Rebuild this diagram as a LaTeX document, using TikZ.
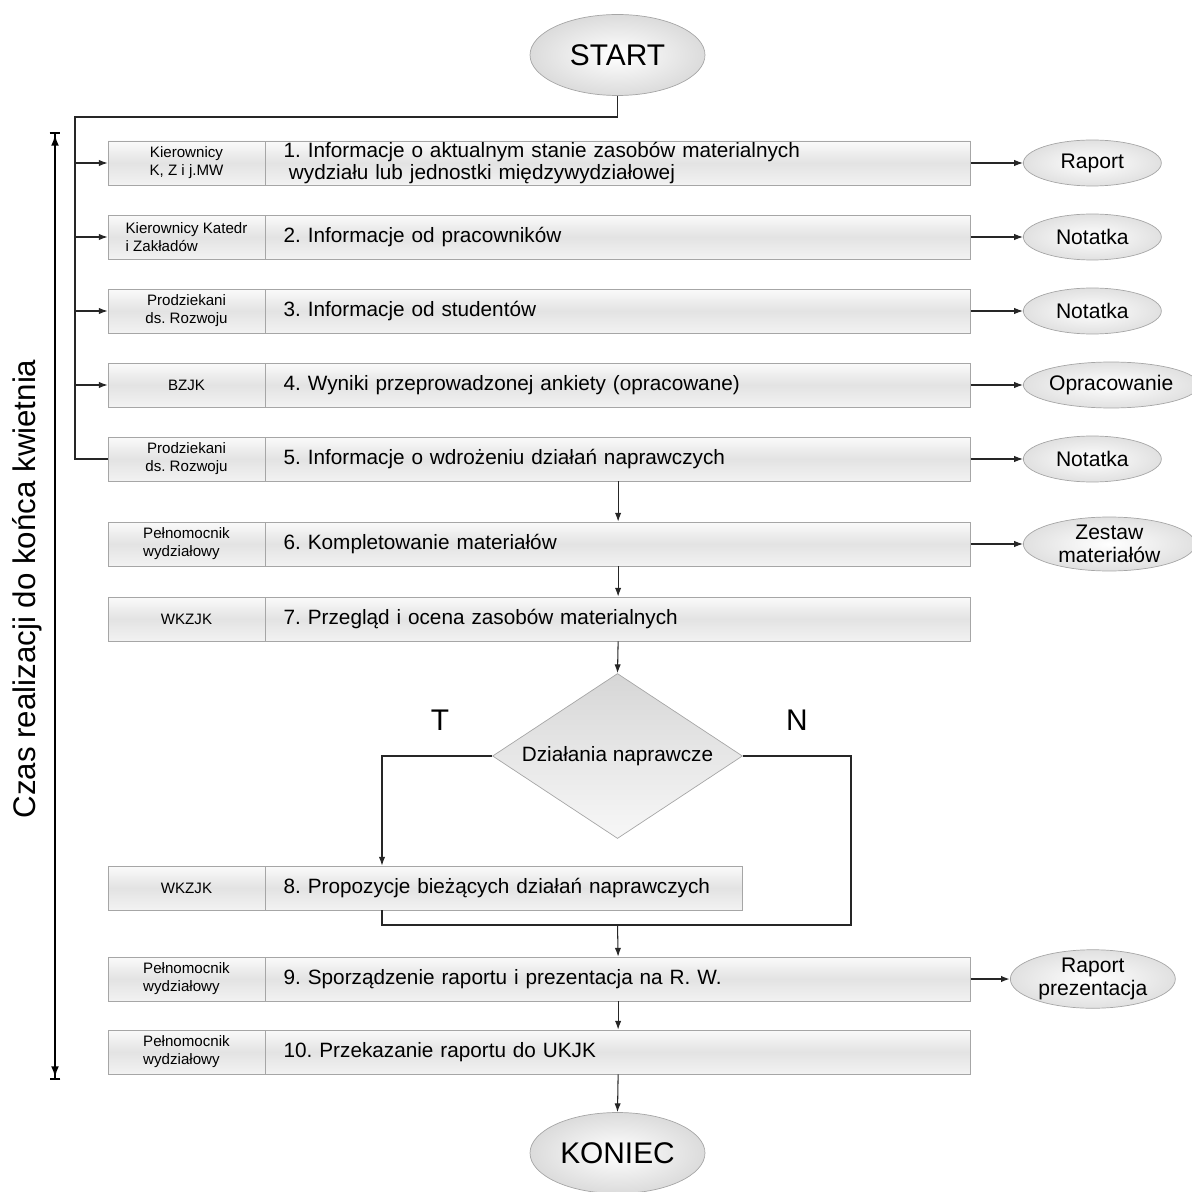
\documentclass[tikz,border=0pt]{standalone}
\usepackage{fontspec}
\setmainfont{Liberation Sans}
\usepackage{tikz}
\usetikzlibrary{shapes,arrows,positioning,calc,arrows.meta}
\frenchspacing

\tikzset{
  role/.style={draw=gray!70, top color=gray!4, bottom color=gray!10, middle color=gray!22,
    minimum width=3.14cm, minimum height=0.88cm, inner sep=0pt, align=center,
    font=\fontsize{8.6}{10.2}\selectfont},
  task/.style={draw=gray!70, top color=gray!4, bottom color=gray!10, middle color=gray!22,
    anchor=west, minimum height=0.88cm, text width=13.38cm, inner xsep=0.36cm, inner ysep=0pt,
    align=left, font=\fontsize{11.8}{12.5}\selectfont},
  result/.style={ellipse, draw=gray!70, inner color=white, outer color=gray!24, anchor=west,
    minimum width=2.76cm, minimum height=0.92cm, inner sep=0pt, align=center,
    font=\fontsize{12}{12.8}\selectfont},
  terminal/.style={ellipse, draw=gray!70, inner color=white, outer color=gray!28,
    minimum width=3.5cm, minimum height=1.62cm, inner sep=0pt, font=\fontsize{17}{20}\selectfont},
  decision/.style={diamond, draw=gray!70, top color=gray!32, bottom color=gray!6, aspect=1.52,
    minimum width=5cm, minimum height=3.3cm, inner sep=1pt, font=\fontsize{11.8}{13}\selectfont},
  conn/.style={draw=black!85, line width=0.6pt, -{Latex[length=5pt,width=3.6pt]}},
  link/.style={draw=black!85, line width=0.6pt},
  timeline/.style={line width=1.3pt,
    {Bar[width=6pt]Latex[length=6.5pt,width=4.5pt]}-{Latex[length=6.5pt,width=4.5pt]Bar[width=6pt]}},
}

\begin{document}
\begin{tikzpicture}[x=0.02cm, y=-0.02cm]
\useasboundingbox (0,0) rectangle (1192,1192);

\node[terminal] (start) at (617.5,55) {START};

% kto
\node[role] (r1) at (186.5,163) {Kierownicy\\K, Z i j.MW};
\node[role, align=left] (r2) at (186.5,237) {Kierownicy Katedr\\i Zakładów};
\node[role] (r3) at (186.5,311) {Prodziekani\\ds. Rozwoju};
\node[role] (r4) at (186.5,385) {BZJK};
\node[role] (r5) at (186.5,459) {Prodziekani\\ds. Rozwoju};
\node[role, align=left] (r6) at (186.5,544) {Pełnomocnik\\wydziałowy};
\node[role] (r7) at (186.5,619) {WKZJK};
\node[role] (r8) at (186.5,888) {WKZJK};
\node[role, align=left] (r9) at (186.5,979) {Pełnomocnik\\wydziałowy};
\node[role, align=left] (r10) at (186.5,1052) {Pełnomocnik\\wydziałowy};

% co
\node[task] (t1) at (r1.east) {1. Informacje o aktualnym stanie zasobów materialnych\\\hspace{3pt}wydziału lub jednostki międzywydziałowej};
\node[task] (t2) at (r2.east) {2. Informacje od pracowników};
\node[task] (t3) at (r3.east) {3. Informacje od studentów};
\node[task] (t4) at (r4.east) {4. Wyniki przeprowadzonej ankiety (opracowane)};
\node[task] (t5) at (r5.east) {5. Informacje o wdrożeniu działań naprawczych};
\node[task] (t6) at (r6.east) {6. Kompletowanie materiałów};
\node[task] (t7) at (r7.east) {7. Przegląd i ocena zasobów materialnych};
\node[task, text width=8.82cm] (t8) at (r8.east) {8. Propozycje bieżących działań naprawczych};
\node[task] (t9) at (r9.east) {9. Sporządzenie raportu i prezentacja na R. W.};
\node[task] (t10) at (r10.east) {10. Przekazanie raportu do UKJK};

% dokumenty
\node[result] (o1) at (1023,163) {Raport};
\node[result] (o2) at (1023,237) {Notatka};
\node[result] (o3) at (1023,311) {Notatka};
\node[result, minimum width=3.44cm] (o4) at (1023,385) {Opracowanie};
\node[result] (o5) at (1023,459) {Notatka};
\node[result, minimum width=3.44cm, minimum height=1.08cm] (o6) at (1023,544) {Zestaw\\materiałów};
\node[result, minimum width=3.3cm, minimum height=1.04cm] (o9) at (1010,979) {Raport\\prezentacja};

\node[decision] (dec) at (617.5,756) {Działania naprawcze};
\node[font=\fontsize{17}{20}\selectfont] (tlab) at (440,720) {T};
\node[font=\fontsize{17}{20}\selectfont] (nlab) at (797,720) {N};

\node[terminal] (koniec) at (617.5,1153) {KONIEC};

\node[rotate=90, font=\fontsize{17.8}{20}\selectfont] (czas) at (27,589) {Czas realizacji do końca kwietnia};
\coordinate (ttop) at (55,132);
\coordinate (tbot) at (55,1080);
\draw[timeline] (ttop) -- (tbot);

% polaczenia
\coordinate (bend) at (617.5,117);
\coordinate (bus) at (75,117);
\draw[link] (start) -- (bend) -- (bus) |- (r5.west);
\foreach \i in {1,...,4} \draw[conn] (bus |- r\i.west) -- (r\i.west);
\foreach \i in {1,...,6} \draw[conn] (t\i.east) -- (o\i.west);
\draw[conn, line width=1pt] (t9.east) -- (o9.west);

\draw[conn] (t5.south) -- (t6.north);
\draw[conn] (t6.south) -- (t7.north);
\draw[conn] (t7.south) -- (dec.north);

\coordinate (tx) at (382,0);
\coordinate (nx) at (851,925);
\coordinate (merge) at (617.5,925);
\draw[conn] (dec.west) -| (tx |- t8.north);
\draw[link] (dec.east) -| (nx) -- (merge);
\draw[link] (tx |- t8.south) |- (merge);
\draw[conn] (merge) -- (t9.north);
\draw[conn] (t9.south) -- (t10.north);
\draw[conn] (t10.south) -- (koniec.north);
\end{tikzpicture}
\end{document}
